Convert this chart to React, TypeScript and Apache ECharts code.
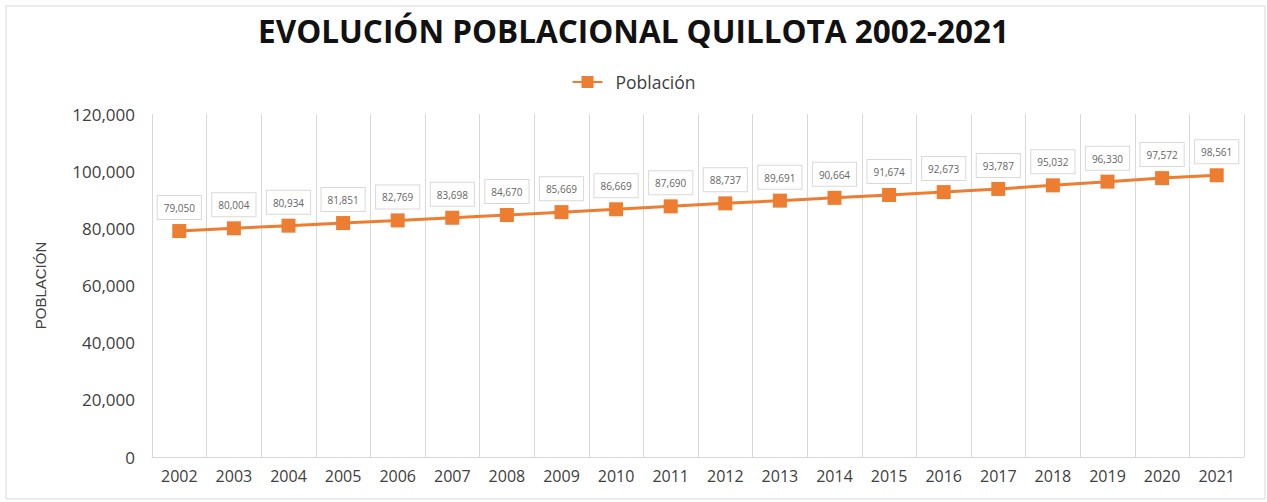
import React, { useEffect, useRef } from "react";
import * as echarts from "echarts";

const years = ["2002","2003","2004","2005","2006","2007","2008","2009","2010","2011","2012","2013","2014","2015","2016","2017","2018","2019","2020","2021"];
const poblacion = [79050,80004,80934,81851,82769,83698,84670,85669,86669,87690,88737,89691,90664,91674,92673,93787,95032,96330,97572,98561];
const titleText = "EVOLUCIÓN POBLACIONAL QUILLOTA 2002-2021";
const seriesName = "Población";
const yAxisName = "POBLACIÓN";

const fmt = (v: number) => v.toLocaleString("en-US");
const FONT = "'Open Sans', 'Noto Sans', sans-serif";

export default function App() {
  const ref = useRef<HTMLDivElement>(null);
  useEffect(() => {
    document.body.style.margin = "0";
    const chart = echarts.init(ref.current!, null, { renderer: "svg" });
    chart.setOption({
      animation: false,
      backgroundColor: "#ffffff",
      title: {
        text: titleText,
        left: "center",
        top: 9,
        textStyle: { fontFamily: FONT, fontSize: 31.5, fontWeight: "bold", color: "#111111" },
      },
      legend: {
        top: 68,
        left: "center",
        itemWidth: 30,
        itemHeight: 15,
        itemGap: 10,
        textStyle: { fontFamily: FONT, fontSize: 17.5, color: "#404040", padding: [0, 0, 0, 8] },
        data: [seriesName],
      },
      graphic: [
        {
          type: "rect",
          shape: { x: 6, y: 6, width: 1259, height: 493 },
          style: { fill: "none", stroke: "#d9d9d9", lineWidth: 1 },
          silent: true,
        },
      ],
      grid: { left: 152, right: 23, top: 114, bottom: 45 },
      xAxis: {
        type: "category",
        data: years,
        boundaryGap: true,
        axisLine: { show: true, lineStyle: { color: "#d9d9d9", width: 1 } },
        axisTick: { show: false },
        axisLabel: { fontFamily: FONT, fontSize: 16, color: "#404040", margin: 11 },
        splitLine: {
          show: true,
          interval: (i: number) => i < years.length,
          lineStyle: { color: "#d9d9d9", width: 1 },
        },
      },
      yAxis: {
        type: "value",
        min: 0,
        max: 120000,
        interval: 20000,
        name: yAxisName,
        nameLocation: "middle",
        nameGap: 104,
        nameTextStyle: { fontFamily: "'Liberation Sans', Arial, sans-serif", fontSize: 15, color: "#404040" },
        axisLine: { show: false },
        axisTick: { show: false },
        splitLine: { show: false },
        axisLabel: {
          fontFamily: FONT,
          fontSize: 17,
          color: "#404040",
          margin: 17,
          formatter: (v: number) => fmt(v),
        },
      },
      series: [
        {
          name: seriesName,
          type: "line",
          data: poblacion,
          symbol: "rect",
          symbolSize: 14,
          lineStyle: { color: "#ED7D31", width: 3 },
          itemStyle: { color: "#ED7D31" },
          label: {
            show: true,
            position: "top",
            distance: 5,
            formatter: (p: any) => fmt(p.value),
            fontFamily: FONT,
            fontSize: 10,
            color: "#666666",
            backgroundColor: "#ffffff",
            borderColor: "#d9d9d9",
            borderWidth: 1,
            padding: [7, 6, 6, 6],
          },
        },
      ],
    });
    return () => chart.dispose();
  }, []);
  return <div ref={ref} style={{ width: 1267, height: 502 }} />;
}
